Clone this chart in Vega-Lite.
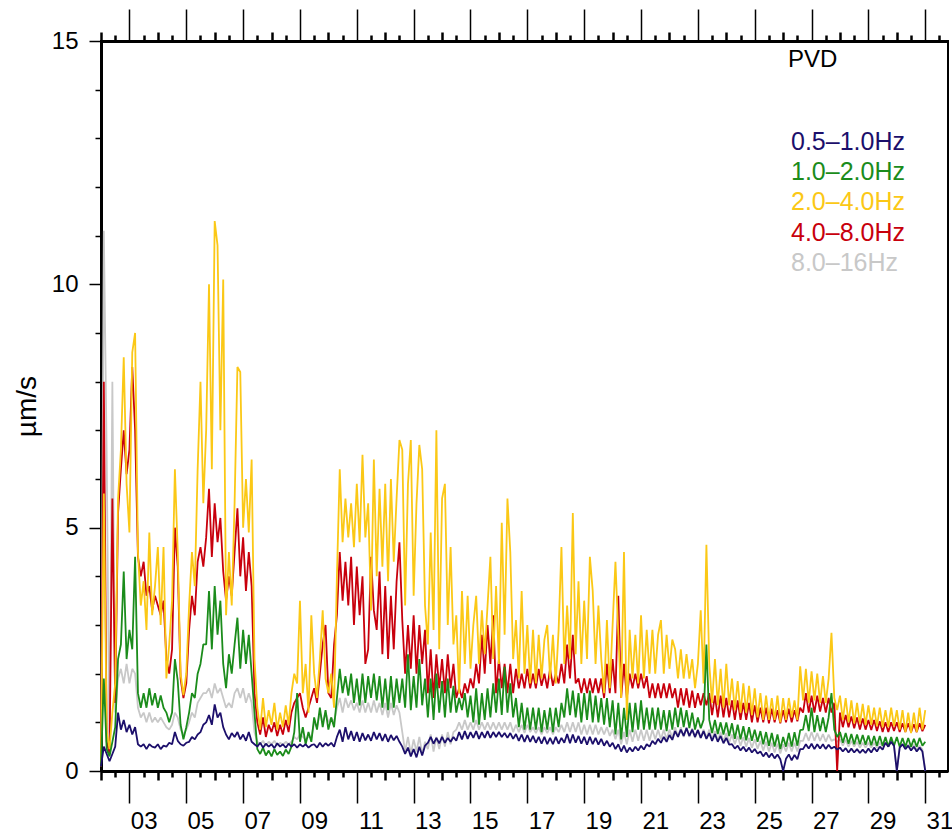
{
  "$schema": "https://vega.github.io/schema/vega-lite/v6.json",
  "width": 847,
  "height": 730,
  "autosize": "none",
  "padding": {"left": 101, "top": 41, "right": 4, "bottom": 68},
  "background": "white",
  "config": {
    "view": {"stroke": "black", "strokeWidth": 2},
    "font": "Liberation Sans"
  },
  "data": {
    "values": [
      {"t":2.0,"a":0.10,"b":0.10,"c":0.15,"d":0.10,"e":0.10},
      {"t":2.1,"a":0.50,"b":1.90,"c":5.70,"d":8.00,"e":11.10},
      {"t":2.2,"a":0.35,"b":0.45,"c":0.80,"d":0.60,"e":6.50},
      {"t":2.3,"a":0.20,"b":0.30,"c":0.45,"d":0.35,"e":0.40},
      {"t":2.4,"a":0.35,"b":0.60,"c":1.20,"d":5.60,"e":8.00},
      {"t":2.5,"a":0.50,"b":0.90,"c":1.80,"d":1.40,"e":1.20},
      {"t":2.6,"a":1.20,"b":2.30,"c":5.60,"d":5.30,"e":1.90},
      {"t":2.7,"a":0.85,"b":2.60,"c":6.60,"d":6.20,"e":2.10},
      {"t":2.8,"a":1.05,"b":4.10,"c":8.50,"d":7.00,"e":1.80},
      {"t":2.9,"a":0.80,"b":2.30,"c":5.90,"d":6.10,"e":2.20},
      {"t":3.0,"a":0.95,"b":2.90,"c":4.90,"d":6.60,"e":1.80},
      {"t":3.1,"a":0.75,"b":2.50,"c":8.60,"d":8.30,"e":2.10},
      {"t":3.2,"a":0.90,"b":4.40,"c":9.00,"d":7.00,"e":2.00},
      {"t":3.3,"a":0.55,"b":1.60,"c":4.50,"d":4.40,"e":1.30},
      {"t":3.4,"a":0.50,"b":1.30,"c":3.40,"d":4.00,"e":1.10},
      {"t":3.5,"a":0.55,"b":1.60,"c":3.90,"d":4.30,"e":1.20},
      {"t":3.6,"a":0.45,"b":1.30,"c":2.90,"d":3.60,"e":1.00},
      {"t":3.7,"a":0.55,"b":1.70,"c":4.90,"d":3.80,"e":1.20},
      {"t":3.8,"a":0.50,"b":1.35,"c":3.20,"d":3.30,"e":1.00},
      {"t":3.9,"a":0.48,"b":1.60,"c":3.80,"d":3.60,"e":1.10},
      {"t":4.0,"a":0.55,"b":1.30,"c":4.60,"d":3.40,"e":1.00},
      {"t":4.1,"a":0.45,"b":1.55,"c":3.00,"d":3.20,"e":1.10},
      {"t":4.2,"a":0.52,"b":1.30,"c":4.60,"d":3.50,"e":1.00},
      {"t":4.3,"a":0.50,"b":1.20,"c":1.90,"d":2.30,"e":0.90},
      {"t":4.4,"a":0.58,"b":1.00,"c":2.60,"d":2.00,"e":0.85},
      {"t":4.5,"a":0.55,"b":1.20,"c":3.50,"d":2.50,"e":0.95},
      {"t":4.6,"a":0.80,"b":2.30,"c":6.20,"d":5.00,"e":1.20},
      {"t":4.7,"a":0.62,"b":1.85,"c":4.50,"d":4.20,"e":1.10},
      {"t":4.8,"a":0.55,"b":0.95,"c":2.00,"d":1.90,"e":0.85},
      {"t":4.9,"a":0.52,"b":0.65,"c":1.56,"d":1.50,"e":0.75},
      {"t":5.0,"a":0.58,"b":0.90,"c":2.00,"d":1.80,"e":0.85},
      {"t":5.1,"a":0.60,"b":1.20,"c":3.40,"d":2.90,"e":1.00},
      {"t":5.2,"a":0.70,"b":1.60,"c":4.50,"d":3.60,"e":1.20},
      {"t":5.3,"a":0.65,"b":1.50,"c":3.80,"d":3.20,"e":1.10},
      {"t":5.4,"a":0.75,"b":2.00,"c":6.20,"d":4.30,"e":1.40},
      {"t":5.5,"a":0.80,"b":2.20,"c":8.00,"d":4.60,"e":1.50},
      {"t":5.6,"a":0.95,"b":2.60,"c":5.50,"d":4.20,"e":1.60},
      {"t":5.7,"a":1.00,"b":2.60,"c":7.00,"d":4.80,"e":1.60},
      {"t":5.8,"a":1.15,"b":3.70,"c":10.00,"d":5.80,"e":1.70},
      {"t":5.9,"a":0.95,"b":2.50,"c":6.20,"d":4.40,"e":1.50},
      {"t":6.0,"a":1.37,"b":3.80,"c":11.30,"d":5.50,"e":1.80},
      {"t":6.1,"a":1.10,"b":2.80,"c":10.80,"d":4.70,"e":1.60},
      {"t":6.2,"a":1.20,"b":3.50,"c":7.00,"d":5.20,"e":1.70},
      {"t":6.3,"a":0.90,"b":2.20,"c":10.10,"d":4.10,"e":1.50},
      {"t":6.4,"a":0.75,"b":1.70,"c":3.20,"d":3.50,"e":1.30},
      {"t":6.5,"a":0.65,"b":2.40,"c":4.50,"d":4.00,"e":1.40},
      {"t":6.6,"a":0.78,"b":2.00,"c":3.40,"d":3.60,"e":1.30},
      {"t":6.7,"a":0.70,"b":2.60,"c":5.50,"d":4.50,"e":1.60},
      {"t":6.8,"a":0.80,"b":3.15,"c":8.30,"d":5.40,"e":1.70},
      {"t":6.9,"a":0.65,"b":2.10,"c":8.20,"d":4.00,"e":1.50},
      {"t":7.0,"a":0.75,"b":2.90,"c":5.00,"d":4.80,"e":1.70},
      {"t":7.1,"a":0.62,"b":2.20,"c":6.00,"d":3.70,"e":1.40},
      {"t":7.2,"a":0.80,"b":2.80,"c":4.90,"d":4.50,"e":1.60},
      {"t":7.3,"a":0.60,"b":2.00,"c":6.40,"d":3.80,"e":1.40},
      {"t":7.4,"a":0.55,"b":1.20,"c":2.30,"d":1.60,"e":0.80},
      {"t":7.5,"a":0.50,"b":0.45,"c":1.30,"d":1.00,"e":0.60},
      {"t":7.6,"a":0.58,"b":0.35,"c":0.85,"d":0.75,"e":0.55},
      {"t":7.7,"a":0.48,"b":0.48,"c":1.50,"d":1.10,"e":0.62},
      {"t":7.8,"a":0.56,"b":0.32,"c":0.90,"d":0.70,"e":0.52},
      {"t":7.9,"a":0.50,"b":0.42,"c":1.25,"d":0.95,"e":0.60},
      {"t":8.0,"a":0.55,"b":0.30,"c":0.95,"d":0.80,"e":0.55},
      {"t":8.1,"a":0.47,"b":0.45,"c":1.40,"d":1.00,"e":0.62},
      {"t":8.2,"a":0.57,"b":0.33,"c":0.85,"d":0.72,"e":0.52},
      {"t":8.3,"a":0.50,"b":0.40,"c":1.20,"d":0.95,"e":0.58},
      {"t":8.4,"a":0.55,"b":0.31,"c":0.90,"d":0.75,"e":0.54},
      {"t":8.5,"a":0.48,"b":0.44,"c":1.35,"d":1.05,"e":0.60},
      {"t":8.6,"a":0.56,"b":0.35,"c":0.95,"d":0.80,"e":0.55},
      {"t":8.7,"a":0.50,"b":0.50,"c":1.60,"d":1.20,"e":0.60},
      {"t":8.8,"a":0.55,"b":0.80,"c":2.00,"d":1.40,"e":0.70},
      {"t":8.9,"a":0.48,"b":1.60,"c":1.80,"d":1.50,"e":0.65},
      {"t":9.0,"a":0.55,"b":0.60,"c":3.50,"d":1.60,"e":0.75},
      {"t":9.1,"a":0.50,"b":0.90,"c":1.60,"d":1.30,"e":0.70},
      {"t":9.2,"a":0.55,"b":0.55,"c":2.20,"d":1.10,"e":0.65},
      {"t":9.3,"a":0.48,"b":0.80,"c":1.20,"d":1.30,"e":0.70},
      {"t":9.4,"a":0.53,"b":0.60,"c":3.20,"d":1.50,"e":0.68},
      {"t":9.5,"a":0.55,"b":1.10,"c":2.00,"d":1.70,"e":1.00},
      {"t":9.6,"a":0.48,"b":0.85,"c":1.50,"d":1.40,"e":0.90},
      {"t":9.7,"a":0.58,"b":1.30,"c":2.30,"d":2.00,"e":1.20},
      {"t":9.8,"a":0.50,"b":0.90,"c":3.30,"d":2.60,"e":1.00},
      {"t":9.9,"a":0.57,"b":1.25,"c":1.90,"d":3.00,"e":1.20},
      {"t":10.0,"a":0.52,"b":0.85,"c":1.60,"d":1.60,"e":1.00},
      {"t":10.1,"a":0.58,"b":1.10,"c":2.00,"d":1.50,"e":1.10},
      {"t":10.2,"a":0.50,"b":0.90,"c":1.30,"d":2.60,"e":1.00},
      {"t":10.3,"a":0.70,"b":1.50,"c":4.00,"d":3.20,"e":1.30},
      {"t":10.4,"a":0.85,"b":2.10,"c":6.20,"d":4.50,"e":1.50},
      {"t":10.5,"a":0.60,"b":1.60,"c":4.70,"d":3.50,"e":1.20},
      {"t":10.6,"a":0.90,"b":1.95,"c":5.60,"d":4.30,"e":1.50},
      {"t":10.7,"a":0.65,"b":1.55,"c":4.80,"d":3.40,"e":1.30},
      {"t":10.8,"a":0.82,"b":2.00,"c":5.50,"d":4.40,"e":1.45},
      {"t":10.9,"a":0.62,"b":1.40,"c":4.60,"d":3.00,"e":1.25},
      {"t":11.0,"a":0.80,"b":1.90,"c":5.90,"d":4.20,"e":1.40},
      {"t":11.1,"a":0.60,"b":1.35,"c":4.70,"d":3.20,"e":1.20},
      {"t":11.2,"a":0.78,"b":2.00,"c":6.50,"d":4.00,"e":1.45},
      {"t":11.3,"a":0.63,"b":1.40,"c":4.80,"d":2.20,"e":1.20},
      {"t":11.4,"a":0.75,"b":1.95,"c":5.50,"d":2.50,"e":1.40},
      {"t":11.5,"a":0.62,"b":1.50,"c":3.30,"d":4.40,"e":1.20},
      {"t":11.6,"a":0.80,"b":2.00,"c":6.40,"d":3.30,"e":1.45},
      {"t":11.7,"a":0.65,"b":1.45,"c":4.00,"d":2.90,"e":1.20},
      {"t":11.8,"a":0.78,"b":1.95,"c":5.80,"d":4.10,"e":1.40},
      {"t":11.9,"a":0.62,"b":1.30,"c":4.20,"d":2.40,"e":1.15},
      {"t":12.0,"a":0.76,"b":1.90,"c":5.90,"d":3.80,"e":1.40},
      {"t":12.1,"a":0.60,"b":1.25,"c":3.90,"d":2.30,"e":1.10},
      {"t":12.2,"a":0.74,"b":1.95,"c":6.00,"d":3.60,"e":1.40},
      {"t":12.3,"a":0.63,"b":1.30,"c":4.30,"d":2.50,"e":1.15},
      {"t":12.4,"a":0.72,"b":1.90,"c":5.60,"d":3.90,"e":1.35},
      {"t":12.5,"a":0.60,"b":1.40,"c":6.80,"d":4.70,"e":1.20},
      {"t":12.6,"a":0.50,"b":1.90,"c":6.60,"d":3.10,"e":0.80},
      {"t":12.7,"a":0.35,"b":1.30,"c":3.40,"d":2.00,"e":0.40},
      {"t":12.8,"a":0.48,"b":2.40,"c":5.90,"d":3.00,"e":0.70},
      {"t":12.9,"a":0.30,"b":1.25,"c":6.80,"d":2.10,"e":0.35},
      {"t":13.0,"a":0.45,"b":1.95,"c":3.60,"d":3.20,"e":0.65},
      {"t":13.1,"a":0.28,"b":1.30,"c":5.50,"d":2.00,"e":0.40},
      {"t":13.2,"a":0.50,"b":2.30,"c":6.70,"d":3.00,"e":0.70},
      {"t":13.3,"a":0.32,"b":1.35,"c":6.20,"d":2.20,"e":0.35},
      {"t":13.4,"a":0.52,"b":1.90,"c":3.40,"d":2.90,"e":0.60},
      {"t":13.5,"a":0.58,"b":1.10,"c":2.60,"d":1.60,"e":0.45},
      {"t":13.6,"a":0.70,"b":1.90,"c":4.90,"d":2.50,"e":0.75},
      {"t":13.7,"a":0.56,"b":1.05,"c":2.90,"d":1.50,"e":0.40},
      {"t":13.8,"a":0.68,"b":2.00,"c":7.00,"d":2.40,"e":0.70},
      {"t":13.9,"a":0.57,"b":1.20,"c":2.50,"d":1.70,"e":0.45},
      {"t":14.0,"a":0.70,"b":1.85,"c":5.60,"d":2.30,"e":0.75},
      {"t":14.1,"a":0.58,"b":1.10,"c":5.90,"d":1.60,"e":0.50},
      {"t":14.2,"a":0.68,"b":1.90,"c":3.00,"d":2.40,"e":0.80},
      {"t":14.3,"a":0.60,"b":1.20,"c":4.60,"d":1.70,"e":0.55},
      {"t":14.4,"a":0.70,"b":1.75,"c":2.60,"d":2.20,"e":0.80},
      {"t":14.5,"a":0.62,"b":1.20,"c":3.20,"d":1.50,"e":0.85},
      {"t":14.6,"a":0.80,"b":1.50,"c":1.60,"d":1.70,"e":1.00},
      {"t":14.7,"a":0.65,"b":1.25,"c":3.70,"d":1.50,"e":0.85},
      {"t":14.8,"a":0.82,"b":1.60,"c":2.20,"d":1.80,"e":1.05},
      {"t":14.9,"a":0.66,"b":1.10,"c":3.60,"d":1.60,"e":0.85},
      {"t":15.0,"a":0.80,"b":1.55,"c":2.10,"d":1.90,"e":1.00},
      {"t":15.1,"a":0.68,"b":1.00,"c":3.00,"d":1.70,"e":0.85},
      {"t":15.2,"a":0.82,"b":1.70,"c":3.60,"d":2.20,"e":1.05},
      {"t":15.3,"a":0.66,"b":0.95,"c":2.20,"d":1.80,"e":0.85},
      {"t":15.4,"a":0.80,"b":1.60,"c":3.30,"d":2.80,"e":1.00},
      {"t":15.5,"a":0.68,"b":1.05,"c":2.40,"d":2.00,"e":0.85},
      {"t":15.6,"a":0.82,"b":1.70,"c":3.40,"d":3.00,"e":1.00},
      {"t":15.7,"a":0.68,"b":1.10,"c":4.40,"d":2.20,"e":0.85},
      {"t":15.8,"a":0.80,"b":1.80,"c":2.30,"d":3.20,"e":1.00},
      {"t":15.9,"a":0.70,"b":1.20,"c":3.80,"d":1.60,"e":0.85},
      {"t":16.0,"a":0.80,"b":1.90,"c":2.20,"d":2.30,"e":1.00},
      {"t":16.1,"a":0.70,"b":1.15,"c":5.10,"d":1.70,"e":0.85},
      {"t":16.2,"a":0.78,"b":2.14,"c":2.80,"d":2.20,"e":1.00},
      {"t":16.3,"a":0.68,"b":1.20,"c":5.60,"d":1.60,"e":0.85},
      {"t":16.4,"a":0.78,"b":1.80,"c":4.50,"d":2.20,"e":1.00},
      {"t":16.5,"a":0.66,"b":1.10,"c":2.30,"d":1.60,"e":0.80},
      {"t":16.6,"a":0.76,"b":1.50,"c":3.10,"d":2.10,"e":0.95},
      {"t":16.7,"a":0.62,"b":0.90,"c":1.90,"d":1.70,"e":0.80},
      {"t":16.8,"a":0.75,"b":1.40,"c":3.70,"d":2.00,"e":0.95},
      {"t":16.9,"a":0.60,"b":0.85,"c":2.00,"d":1.70,"e":0.78},
      {"t":17.0,"a":0.74,"b":1.30,"c":3.00,"d":2.10,"e":0.95},
      {"t":17.1,"a":0.60,"b":0.85,"c":1.80,"d":1.70,"e":0.80},
      {"t":17.2,"a":0.72,"b":1.30,"c":2.90,"d":2.00,"e":0.90},
      {"t":17.3,"a":0.58,"b":0.85,"c":1.80,"d":1.70,"e":0.78},
      {"t":17.4,"a":0.70,"b":1.30,"c":2.80,"d":2.10,"e":0.90},
      {"t":17.5,"a":0.56,"b":0.80,"c":1.90,"d":1.75,"e":0.75},
      {"t":17.6,"a":0.70,"b":1.25,"c":2.70,"d":2.00,"e":0.90},
      {"t":17.7,"a":0.55,"b":0.85,"c":3.00,"d":1.70,"e":0.78},
      {"t":17.8,"a":0.68,"b":1.30,"c":1.90,"d":2.10,"e":0.90},
      {"t":17.9,"a":0.55,"b":0.80,"c":2.80,"d":1.75,"e":0.75},
      {"t":18.0,"a":0.70,"b":1.30,"c":1.80,"d":2.00,"e":0.90},
      {"t":18.1,"a":0.56,"b":0.90,"c":2.90,"d":1.80,"e":0.80},
      {"t":18.2,"a":0.68,"b":1.40,"c":4.60,"d":2.20,"e":0.95},
      {"t":18.3,"a":0.58,"b":1.10,"c":2.20,"d":1.80,"e":0.80},
      {"t":18.4,"a":0.76,"b":1.70,"c":3.40,"d":2.60,"e":1.00},
      {"t":18.5,"a":0.57,"b":1.15,"c":2.30,"d":1.90,"e":0.80},
      {"t":18.6,"a":0.75,"b":1.65,"c":5.30,"d":2.80,"e":1.00},
      {"t":18.7,"a":0.58,"b":1.10,"c":2.40,"d":1.80,"e":0.80},
      {"t":18.8,"a":0.72,"b":1.60,"c":3.90,"d":1.90,"e":1.00},
      {"t":18.9,"a":0.56,"b":1.00,"c":2.20,"d":1.60,"e":0.75},
      {"t":19.0,"a":0.70,"b":1.60,"c":3.50,"d":1.90,"e":0.95},
      {"t":19.1,"a":0.54,"b":1.05,"c":2.30,"d":1.60,"e":0.75},
      {"t":19.2,"a":0.70,"b":1.65,"c":4.40,"d":1.90,"e":0.95},
      {"t":19.3,"a":0.55,"b":1.00,"c":3.70,"d":1.60,"e":0.75},
      {"t":19.4,"a":0.68,"b":1.55,"c":2.20,"d":1.90,"e":0.95},
      {"t":19.5,"a":0.54,"b":1.00,"c":3.40,"d":1.60,"e":0.75},
      {"t":19.6,"a":0.66,"b":1.50,"c":2.30,"d":1.90,"e":0.90},
      {"t":19.7,"a":0.52,"b":0.95,"c":1.60,"d":1.50,"e":0.75},
      {"t":19.8,"a":0.62,"b":1.50,"c":3.10,"d":2.20,"e":0.90},
      {"t":19.9,"a":0.50,"b":0.90,"c":1.70,"d":1.60,"e":0.72},
      {"t":20.0,"a":0.58,"b":1.45,"c":3.00,"d":2.30,"e":0.85},
      {"t":20.1,"a":0.45,"b":0.75,"c":4.30,"d":1.60,"e":0.65},
      {"t":20.2,"a":0.55,"b":1.40,"c":2.80,"d":3.60,"e":0.85},
      {"t":20.3,"a":0.40,"b":0.65,"c":1.50,"d":1.50,"e":0.55},
      {"t":20.4,"a":0.52,"b":1.30,"c":4.50,"d":2.20,"e":0.80},
      {"t":20.5,"a":0.38,"b":0.70,"c":1.05,"d":1.50,"e":0.55},
      {"t":20.6,"a":0.48,"b":1.40,"c":2.90,"d":2.00,"e":0.85},
      {"t":20.7,"a":0.40,"b":0.80,"c":1.90,"d":1.70,"e":0.60},
      {"t":20.8,"a":0.50,"b":1.40,"c":2.80,"d":2.00,"e":0.85},
      {"t":20.9,"a":0.42,"b":0.85,"c":1.80,"d":1.70,"e":0.62},
      {"t":21.0,"a":0.52,"b":1.45,"c":3.20,"d":2.00,"e":0.85},
      {"t":21.1,"a":0.44,"b":0.85,"c":1.90,"d":1.70,"e":0.62},
      {"t":21.2,"a":0.55,"b":1.30,"c":2.90,"d":1.95,"e":0.85},
      {"t":21.3,"a":0.50,"b":0.85,"c":2.00,"d":1.50,"e":0.62},
      {"t":21.4,"a":0.62,"b":1.30,"c":2.90,"d":1.80,"e":0.85},
      {"t":21.5,"a":0.55,"b":0.85,"c":2.00,"d":1.50,"e":0.65},
      {"t":21.6,"a":0.66,"b":1.30,"c":2.80,"d":1.80,"e":0.85},
      {"t":21.7,"a":0.58,"b":0.85,"c":3.10,"d":1.50,"e":0.65},
      {"t":21.8,"a":0.70,"b":1.25,"c":2.00,"d":1.80,"e":0.85},
      {"t":21.9,"a":0.60,"b":0.82,"c":2.80,"d":1.50,"e":0.65},
      {"t":22.0,"a":0.74,"b":1.25,"c":2.10,"d":1.80,"e":0.85},
      {"t":22.1,"a":0.64,"b":0.85,"c":2.70,"d":1.50,"e":0.68},
      {"t":22.2,"a":0.82,"b":1.30,"c":2.50,"d":1.70,"e":0.90},
      {"t":22.3,"a":0.70,"b":0.90,"c":1.90,"d":1.30,"e":0.70},
      {"t":22.4,"a":0.85,"b":1.30,"c":2.50,"d":1.70,"e":0.90},
      {"t":22.5,"a":0.72,"b":0.90,"c":1.90,"d":1.35,"e":0.70},
      {"t":22.6,"a":0.88,"b":1.25,"c":2.40,"d":1.70,"e":0.90},
      {"t":22.7,"a":0.72,"b":0.88,"c":1.90,"d":1.30,"e":0.70},
      {"t":22.8,"a":0.85,"b":1.20,"c":2.30,"d":1.65,"e":0.88},
      {"t":22.9,"a":0.70,"b":0.85,"c":1.70,"d":1.30,"e":0.68},
      {"t":23.0,"a":0.84,"b":1.10,"c":2.20,"d":1.60,"e":0.85},
      {"t":23.1,"a":0.68,"b":0.88,"c":3.30,"d":1.35,"e":0.68},
      {"t":23.2,"a":0.82,"b":1.05,"c":1.80,"d":1.60,"e":0.85},
      {"t":23.3,"a":0.66,"b":2.60,"c":4.65,"d":1.35,"e":0.68},
      {"t":23.4,"a":0.78,"b":1.05,"c":2.20,"d":1.60,"e":0.85},
      {"t":23.5,"a":0.62,"b":0.78,"c":1.40,"d":1.15,"e":0.65},
      {"t":23.6,"a":0.76,"b":1.05,"c":2.30,"d":1.55,"e":0.82},
      {"t":23.7,"a":0.60,"b":0.76,"c":1.35,"d":1.10,"e":0.62},
      {"t":23.8,"a":0.72,"b":1.00,"c":2.10,"d":1.55,"e":0.80},
      {"t":23.9,"a":0.57,"b":0.75,"c":1.30,"d":1.10,"e":0.60},
      {"t":24.0,"a":0.68,"b":1.00,"c":2.20,"d":1.50,"e":0.78},
      {"t":24.1,"a":0.54,"b":0.72,"c":1.35,"d":1.10,"e":0.58},
      {"t":24.2,"a":0.55,"b":0.98,"c":1.90,"d":1.45,"e":0.75},
      {"t":24.3,"a":0.46,"b":0.66,"c":1.25,"d":1.05,"e":0.55},
      {"t":24.4,"a":0.52,"b":0.95,"c":1.85,"d":1.45,"e":0.72},
      {"t":24.5,"a":0.42,"b":0.65,"c":1.20,"d":1.05,"e":0.52},
      {"t":24.6,"a":0.50,"b":0.92,"c":1.80,"d":1.40,"e":0.70},
      {"t":24.7,"a":0.40,"b":0.63,"c":1.20,"d":1.05,"e":0.50},
      {"t":24.8,"a":0.48,"b":0.90,"c":1.75,"d":1.40,"e":0.68},
      {"t":24.9,"a":0.38,"b":0.62,"c":1.15,"d":1.00,"e":0.48},
      {"t":25.0,"a":0.45,"b":0.85,"c":1.70,"d":1.35,"e":0.65},
      {"t":25.1,"a":0.36,"b":0.60,"c":1.10,"d":1.00,"e":0.46},
      {"t":25.2,"a":0.40,"b":0.82,"c":1.60,"d":1.30,"e":0.62},
      {"t":25.3,"a":0.30,"b":0.55,"c":1.05,"d":1.00,"e":0.42},
      {"t":25.4,"a":0.38,"b":0.80,"c":1.55,"d":1.30,"e":0.60},
      {"t":25.5,"a":0.28,"b":0.52,"c":1.05,"d":0.98,"e":0.40},
      {"t":25.6,"a":0.36,"b":0.78,"c":1.50,"d":1.28,"e":0.58},
      {"t":25.7,"a":0.26,"b":0.50,"c":1.05,"d":1.00,"e":0.38},
      {"t":25.8,"a":0.34,"b":0.75,"c":1.55,"d":1.25,"e":0.56},
      {"t":25.9,"a":0.24,"b":0.45,"c":1.00,"d":0.98,"e":0.36},
      {"t":26.0,"a":0.00,"b":0.70,"c":1.50,"d":1.25,"e":0.55},
      {"t":26.1,"a":0.25,"b":0.50,"c":1.05,"d":1.00,"e":0.40},
      {"t":26.2,"a":0.34,"b":0.78,"c":1.50,"d":1.28,"e":0.58},
      {"t":26.3,"a":0.22,"b":0.50,"c":1.10,"d":1.00,"e":0.40},
      {"t":26.4,"a":0.33,"b":0.80,"c":1.45,"d":1.25,"e":0.58},
      {"t":26.5,"a":0.24,"b":0.52,"c":1.05,"d":1.02,"e":0.40},
      {"t":26.6,"a":0.45,"b":0.84,"c":2.15,"d":1.30,"e":0.62},
      {"t":26.7,"a":0.45,"b":0.85,"c":1.45,"d":1.20,"e":0.62},
      {"t":26.8,"a":0.55,"b":1.15,"c":2.10,"d":1.60,"e":0.78},
      {"t":26.9,"a":0.46,"b":0.82,"c":1.40,"d":1.20,"e":0.62},
      {"t":27.0,"a":0.56,"b":1.30,"c":2.05,"d":1.55,"e":0.80},
      {"t":27.1,"a":0.45,"b":0.80,"c":1.45,"d":1.20,"e":0.62},
      {"t":27.2,"a":0.55,"b":1.15,"c":2.00,"d":1.55,"e":0.78},
      {"t":27.3,"a":0.46,"b":0.82,"c":1.40,"d":1.22,"e":0.62},
      {"t":27.4,"a":0.55,"b":1.10,"c":1.95,"d":1.50,"e":0.76},
      {"t":27.5,"a":0.45,"b":0.80,"c":1.40,"d":1.20,"e":0.60},
      {"t":27.6,"a":0.54,"b":1.10,"c":1.90,"d":1.50,"e":0.75},
      {"t":27.7,"a":0.46,"b":1.60,"c":2.84,"d":1.20,"e":0.62},
      {"t":27.8,"a":0.50,"b":0.85,"c":1.50,"d":1.40,"e":0.65},
      {"t":27.9,"a":0.44,"b":0.70,"c":1.25,"d":0.00,"e":0.60},
      {"t":28.0,"a":0.48,"b":0.80,"c":1.55,"d":1.20,"e":0.65},
      {"t":28.1,"a":0.40,"b":0.58,"c":1.05,"d":0.90,"e":0.52},
      {"t":28.2,"a":0.47,"b":0.78,"c":1.50,"d":1.15,"e":0.64},
      {"t":28.3,"a":0.38,"b":0.56,"c":1.00,"d":0.90,"e":0.50},
      {"t":28.4,"a":0.46,"b":0.76,"c":1.45,"d":1.12,"e":0.62},
      {"t":28.5,"a":0.38,"b":0.55,"c":0.98,"d":0.88,"e":0.50},
      {"t":28.6,"a":0.45,"b":0.75,"c":1.40,"d":1.10,"e":0.60},
      {"t":28.7,"a":0.37,"b":0.55,"c":0.98,"d":0.85,"e":0.48},
      {"t":28.8,"a":0.44,"b":0.74,"c":1.38,"d":1.08,"e":0.58},
      {"t":28.9,"a":0.37,"b":0.54,"c":0.95,"d":0.85,"e":0.48},
      {"t":29.0,"a":0.46,"b":0.73,"c":1.35,"d":1.05,"e":0.58},
      {"t":29.1,"a":0.38,"b":0.53,"c":0.95,"d":0.84,"e":0.48},
      {"t":29.2,"a":0.48,"b":0.72,"c":1.30,"d":1.05,"e":0.58},
      {"t":29.3,"a":0.40,"b":0.52,"c":0.92,"d":0.82,"e":0.48},
      {"t":29.4,"a":0.50,"b":0.72,"c":1.30,"d":1.02,"e":0.58},
      {"t":29.5,"a":0.44,"b":0.52,"c":0.90,"d":0.80,"e":0.50},
      {"t":29.6,"a":0.58,"b":0.70,"c":1.25,"d":1.00,"e":0.60},
      {"t":29.7,"a":0.50,"b":0.50,"c":0.90,"d":0.80,"e":0.50},
      {"t":29.8,"a":0.60,"b":0.70,"c":1.30,"d":1.00,"e":0.60},
      {"t":29.9,"a":0.52,"b":0.52,"c":0.92,"d":0.82,"e":0.50},
      {"t":30.0,"a":0.00,"b":0.70,"c":1.25,"d":1.00,"e":0.00},
      {"t":30.1,"a":0.48,"b":0.50,"c":0.85,"d":0.80,"e":0.48},
      {"t":30.2,"a":0.55,"b":0.68,"c":1.25,"d":0.98,"e":0.56},
      {"t":30.3,"a":0.45,"b":0.50,"c":0.80,"d":0.80,"e":0.46},
      {"t":30.4,"a":0.52,"b":0.68,"c":1.20,"d":0.98,"e":0.55},
      {"t":30.5,"a":0.42,"b":0.50,"c":0.78,"d":0.80,"e":0.45},
      {"t":30.6,"a":0.50,"b":0.66,"c":1.20,"d":0.96,"e":0.54},
      {"t":30.7,"a":0.40,"b":0.50,"c":0.80,"d":0.80,"e":0.44},
      {"t":30.8,"a":0.48,"b":0.68,"c":1.30,"d":0.98,"e":0.52},
      {"t":30.9,"a":0.40,"b":0.52,"c":0.85,"d":0.82,"e":0.44},
      {"t":31.0,"a":0.00,"b":0.60,"c":1.25,"d":0.95,"e":0.00}
    ]
  },
  "transform": [{"fold": ["e", "d", "c", "b", "a"], "as": ["band", "v"]}],
  "encoding": {
    "x": {"field": "t", "type": "quantitative", "axis": null,
          "scale": {"domain": [2, 31.8], "nice": false, "zero": false}},
    "y": {"field": "v", "type": "quantitative", "axis": null,
          "scale": {"domain": [0, 15], "nice": false}},
    "color": {"field": "band", "type": "nominal", "legend": null,
              "scale": {"domain": ["a", "b", "c", "d", "e"],
                        "range": ["#1c0f6b", "#1b8c1b", "#fbc816", "#c8000c", "#c8c8c8"]}}
  },
  "layer": [
    {
      "transform": [{"filter": "datum.band === 'e'"}],
      "mark": {"type": "line", "strokeWidth": 1.8, "strokeJoin": "bevel"},
      "encoding": {
        "x": {"field": "t", "type": "quantitative",
              "scale": {"domain": [2, 31.8], "nice": false, "zero": false},
              "axis": {
                "orient": "bottom", "title": null, "grid": false,
                "values": [2,2.5,3,3.5,4,4.5,5,5.5,6,6.5,7,7.5,8,8.5,9,9.5,10,10.5,11,11.5,12,12.5,13,13.5,14,14.5,15,15.5,16,16.5,17,17.5,18,18.5,19,19.5,20,20.5,21,21.5,22,22.5,23,23.5,24,24.5,25,25.5,26,26.5,27,27.5,28,28.5,29,29.5,30,30.5,31,31.5],
                "domainColor": "black", "domainWidth": 3,
                "tickColor": "black",
                "tickSize": {"condition": [{"test": "datum.value % 2 == 1", "value": 32}, {"test": "datum.value % 1 == 0", "value": 9}], "value": 6},
                "tickWidth": {"condition": {"test": "datum.value % 2 == 1", "value": 1.5}, "value": 2.5},
                "labelExpr": "datum.value % 2 == 1 ? (datum.value < 10 ? '0' + datum.value : '' + datum.value) : ''",
                "labelFont": "Liberation Sans", "labelFontSize": 24, "labelColor": "black",
                "labelAngle": 0, "labelAlign": "center", "labelBaseline": "top",
                "labelOffset": 14.2, "labelPadding": 6,
                "labelFlush": false, "labelOverlap": false, "labelBound": false
              }},
        "y": {"field": "v", "type": "quantitative",
              "scale": {"domain": [0, 15], "nice": false},
              "axis": {
                "orient": "left", "grid": false,
                "values": [0,1,2,3,4,5,6,7,8,9,10,11,12,13,14,15],
                "title": "µm/s", "titleFont": "Liberation Sans", "titleFontSize": 28,
                "titleFontWeight": "normal", "titleColor": "black", "titlePadding": 10,
                "domainColor": "black", "domainWidth": 3,
                "tickColor": "black", "tickWidth": 1.5,
                "tickSize": {"condition": {"test": "datum.value % 5 == 0", "value": 12}, "value": 6},
                "labelExpr": "datum.value % 5 == 0 ? datum.label : ''",
                "labelFont": "Liberation Sans", "labelFontSize": 24, "labelColor": "black",
                "labelPadding": 11, "labelFlush": false, "labelOverlap": false, "labelBound": false
              }},
        "color": {"field": "band", "type": "nominal",
                  "scale": {"domain": ["a", "b", "c", "d", "e"],
                            "range": ["#1c0f6b", "#1b8c1b", "#fbc816", "#c8000c", "#c8c8c8"]},
                  "legend": {
                    "orient": "none", "legendX": 687, "legendY": 7,
                    "title": "PVD", "titleFont": "Liberation Sans", "titleFontSize": 24,
                    "titleFontWeight": "normal", "titleColor": "black", "titlePadding": 57,
                    "labelFont": "Liberation Sans", "labelFontSize": 25, "labelOffset": -22,
                    "symbolSize": 0, "symbolOpacity": 0, "symbolStrokeWidth": 0,
                    "rowPadding": 4.4, "padding": 0,
                    "labelExpr": "datum.label == 'a' ? '0.5–1.0Hz' : datum.label == 'b' ? '1.0–2.0Hz' : datum.label == 'c' ? '2.0–4.0Hz' : datum.label == 'd' ? '4.0–8.0Hz' : '8.0–16Hz'",
                    "encode": {"labels": {"update": {"fill": {"scale": "color", "field": "value"}}}}
                  }}
      }
    },
    {
      "transform": [{"filter": "datum.band === 'd'"}],
      "mark": {"type": "line", "strokeWidth": 1.8, "strokeJoin": "bevel"},
      "encoding": {
        "x": {"field": "t", "type": "quantitative",
              "scale": {"domain": [2, 31.8], "nice": false, "zero": false},
              "axis": {
                "orient": "top", "title": null, "grid": false, "labels": false,
                "values": [2,2.5,3,3.5,4,4.5,5,5.5,6,6.5,7,7.5,8,8.5,9,9.5,10,10.5,11,11.5,12,12.5,13,13.5,14,14.5,15,15.5,16,16.5,17,17.5,18,18.5,19,19.5,20,20.5,21,21.5,22,22.5,23,23.5,24,24.5,25,25.5,26,26.5,27,27.5,28,28.5,29,29.5,30,30.5,31,31.5],
                "domainColor": "black", "domainWidth": 3,
                "tickColor": "black",
                "tickSize": {"condition": [{"test": "datum.value % 2 == 1", "value": 32}, {"test": "datum.value % 1 == 0", "value": 9}], "value": 6},
                "tickWidth": {"condition": {"test": "datum.value % 2 == 1", "value": 1.5}, "value": 2.5}
              }}
      }
    },
    {
      "transform": [{"filter": "datum.band === 'c'"}],
      "mark": {"type": "line", "strokeWidth": 1.8, "strokeJoin": "bevel"}
    },
    {
      "transform": [{"filter": "datum.band === 'b'"}],
      "mark": {"type": "line", "strokeWidth": 1.8, "strokeJoin": "bevel"}
    },
    {
      "transform": [{"filter": "datum.band === 'a'"}],
      "mark": {"type": "line", "strokeWidth": 1.8, "strokeJoin": "bevel"}
    }
  ],
  "resolve": {"axis": {"x": "independent", "y": "independent"}}
}
